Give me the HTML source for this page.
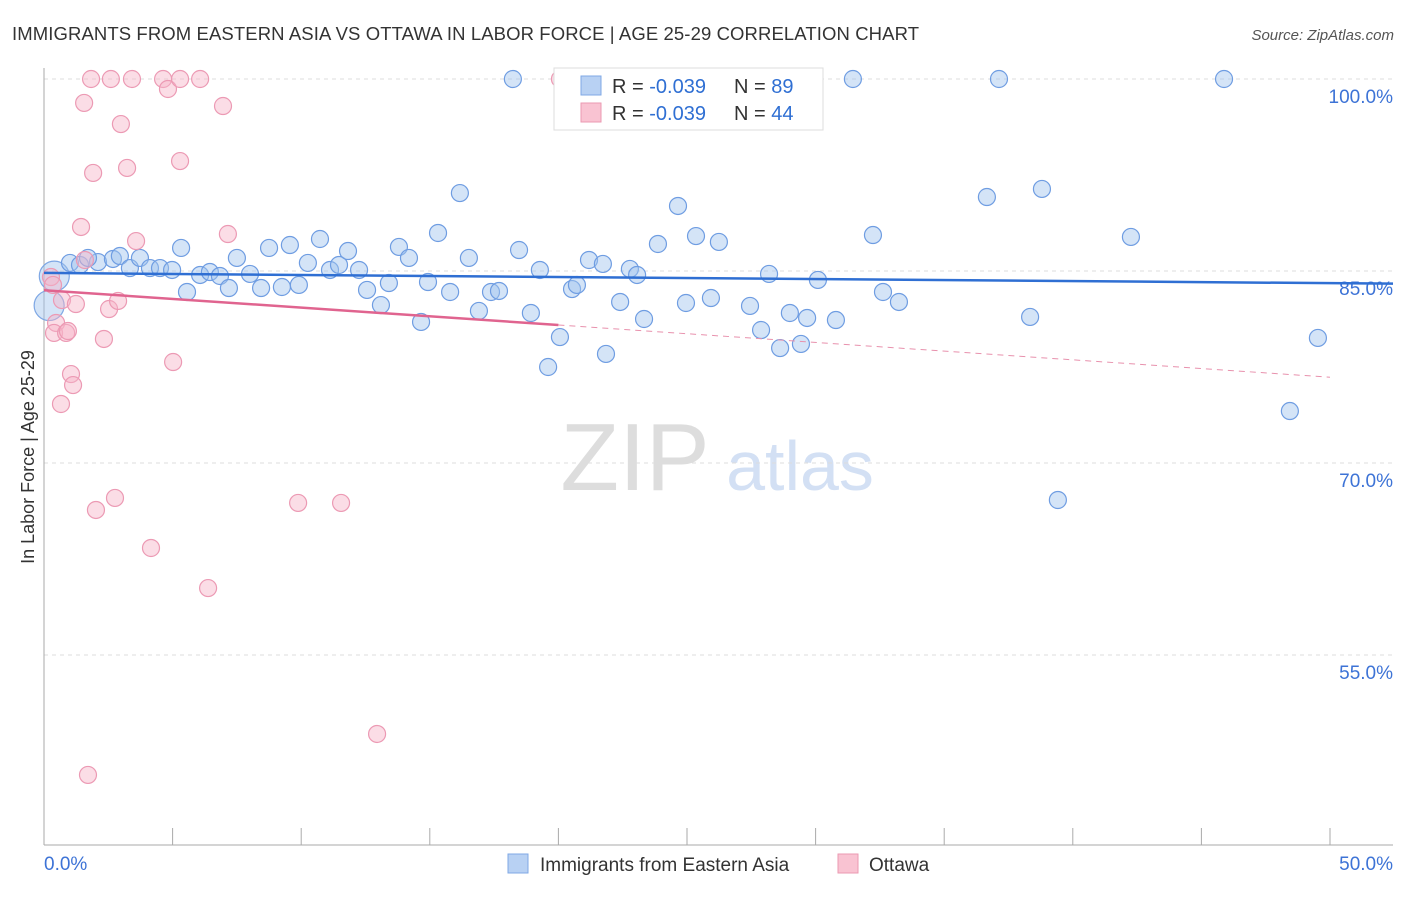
<!DOCTYPE html>
<html><head><meta charset="utf-8"><style>
body{margin:0;background:#fff;font-family:"Liberation Sans",sans-serif}
svg text{font-family:"Liberation Sans",sans-serif}
</style></head><body>
<svg width="1406" height="892" xmlns="http://www.w3.org/2000/svg">
<text x="12" y="40" font-size="18.5" fill="#333" textLength="907">IMMIGRANTS FROM EASTERN ASIA VS OTTAWA IN LABOR FORCE | AGE 25-29 CORRELATION CHART</text>
<text x="1394" y="40" font-size="15" fill="#555" font-style="italic" text-anchor="end">Source: ZipAtlas.com</text>
<g><text x="635" y="490" font-size="96" fill="#ddd" text-anchor="middle" font-family="Liberation Serif">ZIP</text><text x="800" y="490" font-size="70" fill="#d3e0f4" text-anchor="middle">atlas</text></g>
<g id="grid"></g><g id="axes"></g><g id="pts"></g><g id="lines"></g>
<text transform="translate(34,457) rotate(-90)" font-size="18" fill="#333" text-anchor="middle">In Labor Force | Age 25-29</text>
<g>
<rect x="554" y="68" width="269" height="62" fill="#fff" stroke="#ddd"/>
<rect x="581" y="76" width="20" height="19" fill="#b8d1f3" stroke="#7fa8e6"/>
<rect x="581" y="103" width="20" height="19" fill="#f9c3d2" stroke="#eb99b2"/>
<text x="612" y="93" font-size="20" fill="#333">R = <tspan fill="#2f6fd3">-0.039</tspan></text>
<text x="734" y="93" font-size="20" fill="#333">N = <tspan fill="#2f6fd3">89</tspan></text>
<text x="612" y="120" font-size="20" fill="#333">R = <tspan fill="#2f6fd3">-0.039</tspan></text>
<text x="734" y="120" font-size="20" fill="#333">N = <tspan fill="#2f6fd3">44</tspan></text>
</g>
<g>
<rect x="508" y="854" width="20" height="19" fill="#b8d1f3" stroke="#7fa8e6"/>
<text x="540" y="871" font-size="19" fill="#333">Immigrants from Eastern Asia</text>
<rect x="838" y="854" width="20" height="19" fill="#f9c3d2" stroke="#eb99b2"/>
<text x="869" y="871" font-size="19" fill="#333">Ottawa</text>
</g>
</svg>
<script>
const yTicks=[100,85,70,55];
const xTickLabels=["0.0%","50.0%"];
const bluePx=[[70,263],[80,265],[98,262],[88,258],[113,259],[120,256],[130,268],[140,258],[150,268],[160,268],[172,270],[181,248],[187,292],[200,275],[210,272],[220,276],[229,288],[237,258],[250,274],[261,288],[269,248],[282,287],[290,245],[299,285],[308,263],[320,239],[330,270],[339,265],[348,251],[359,270],[367,290],[381,305],[389,283],[399,247],[409,258],[421,322],[428,282],[438,233],[450,292],[460,193],[469,258],[479,311],[491,292],[499,291],[513,79],[519,250],[531,313],[540,270],[548,367],[560,337],[572,289],[577,285],[589,260],[603,264],[606,354],[620,302],[630,269],[637,275],[644,319],[658,244],[678,206],[686,303],[696,236],[711,298],[719,242],[750,306],[761,330],[769,274],[780,348],[790,313],[801,344],[807,318],[818,280],[836,320],[853,79],[873,235],[883,292],[899,302],[987,197],[999,79],[1030,317],[1042,189],[1058,500],[1131,237],[1224,79],[1290,411],[1318,338]];
const pinkPx=[[51,277],[53,285],[56,323],[54,333],[61,404],[62,300],[66,333],[68,331],[71,374],[73,385],[76,304],[81,227],[84,103],[85,260],[88,775],[93,173],[96,510],[104,339],[109,309],[91,79],[111,79],[115,498],[118,301],[121,124],[127,168],[132,79],[136,241],[151,548],[163,79],[168,89],[173,362],[180,161],[180,79],[200,79],[208,588],[223,106],[228,234],[298,503],[341,503],[377,734],[560,79]];
const blueX=bluePx.map(p=>+((p[0]-44)/128.6*5).toFixed(2)), blueY=bluePx.map(p=>+(100-(p[1]-79)*15/192).toFixed(2));
const pinkX=pinkPx.map(p=>+((p[0]-44)/128.6*5).toFixed(2)), pinkY=pinkPx.map(p=>+(100-(p[1]-79)*15/192).toFixed(2));
const blueBig=[[0.4,84.6],[0.2,82.3]];
const blueTrend=[84.85,84.05], pinkTrend=[83.5,76.7];
const X=v=>44+v/5*128.6, Y=v=>79+(100-v)*192/15;
const NS="http://www.w3.org/2000/svg";
function mk(t,a,parent){const e=document.createElementNS(NS,t);for(const k in a)e.setAttribute(k,a[k]);document.getElementById(parent).appendChild(e);return e;}
yTicks.forEach(t=>{let l=mk('line',{x1:44,x2:1393,y1:Y(t),y2:Y(t),stroke:'#ddd','stroke-dasharray':'4,4'},'grid');

let tx=mk('text',{x:1393,y:Y(t)+24,'font-size':19,fill:'#3d73d6','text-anchor':'end'},'grid');tx.textContent=t.toFixed(1)+'%';
});
let ax=mk('line',{x1:44,x2:44,y1:68,y2:845,stroke:'#aaa'},'axes');
let bx=mk('line',{x1:44,x2:1393,y1:845,y2:845,stroke:'#aaa'},'axes');
for(let i=0;i<=10;i++){let t=mk('line',{x1:X(i*5),x2:X(i*5),y1:828,y2:845,stroke:'#aaa'},'axes');}
[[0,xTickLabels[0],'start',44],[50,xTickLabels[1],'end',1393]].forEach(d=>{let t=mk('text',{x:d[3],y:870,'font-size':19,fill:'#3d73d6','text-anchor':d[2]},'axes');t.textContent=d[1];});
blueBig.forEach(p=>{let c=mk('circle',{cx:X(p[0]),cy:Y(p[1]),r:15,fill:'rgba(160,195,238,0.45)',stroke:'#7ea7e4','stroke-width':1.2},'pts');});
blueX.forEach((x,i)=>{let c=mk('circle',{cx:X(x),cy:Y(blueY[i]),r:8.5,fill:'rgba(160,195,238,0.45)',stroke:'#6f9de2','stroke-width':1.2},'pts');
});
pinkX.forEach((x,i)=>{let c=mk('circle',{cx:X(x),cy:Y(pinkY[i]),r:8.5,fill:'rgba(247,180,200,0.45)',stroke:'#ec9ab4','stroke-width':1.2},'pts');
});
let bl=mk('line',{x1:X(0),y1:Y(blueTrend[0]),x2:1393,y2:Y(blueTrend[0]+(blueTrend[1]-blueTrend[0])*(1393-44)/(X(50)-44)),stroke:'#2f6fd3','stroke-width':2.5},'lines');

const pm=v=>pinkTrend[0]+(pinkTrend[1]-pinkTrend[0])*v/50;
let pl=mk('line',{x1:X(0),y1:Y(pm(0)),x2:X(20),y2:Y(pm(20)),stroke:'#e0648f','stroke-width':2.5},'lines');

let pd=mk('line',{x1:X(20),y1:Y(pm(20)),x2:X(50),y2:Y(pm(50)),stroke:'#e891ad','stroke-width':1,'stroke-dasharray':'6,5'},'lines');

</script>
</body></html>
